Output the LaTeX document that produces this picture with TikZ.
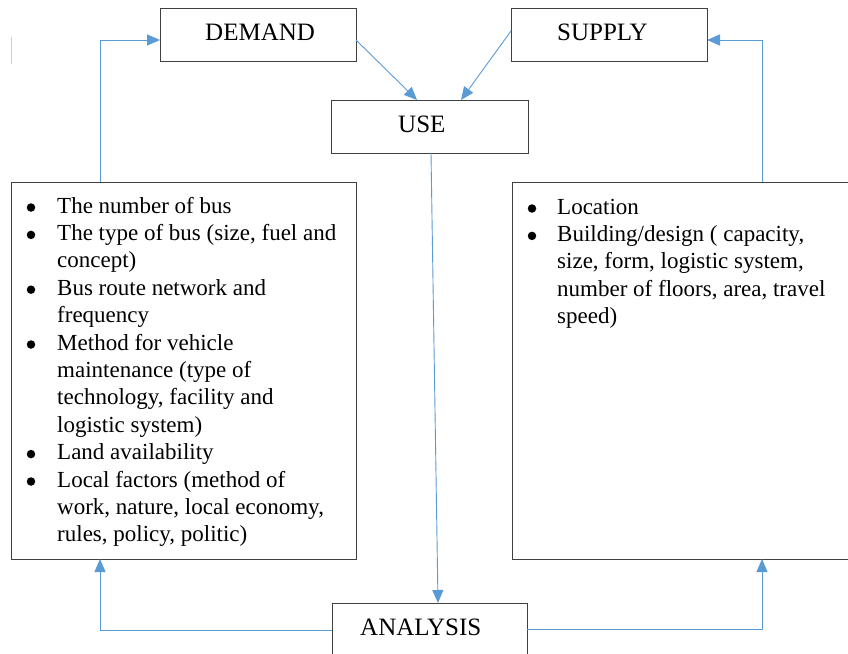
\documentclass[tikz,border=0pt]{standalone}
\usepackage{fontspec}
\setmainfont{Liberation Serif}
\usetikzlibrary{arrows.meta}
\definecolor{arrowblue}{HTML}{5B9BD5}
\definecolor{boxgray}{HTML}{404040}
\begin{document}
\begin{tikzpicture}[x=1pt,y=-1pt,
  box/.style={draw=boxgray,line width=0.9pt,inner sep=0pt,outer sep=0pt},
  head/.style={anchor=base west,inner sep=0pt,font=\fontsize{25}{30}\selectfont},
  ln/.style={anchor=base west,inner sep=0pt,font=\fontsize{23}{27}\selectfont},
  bul/.style={circle,fill=black,draw=none,minimum size=8.5pt,inner sep=0pt},
  arr/.style={draw=arrowblue,line width=0.9pt,-{Triangle[length=13pt,width=11pt]}}]
\useasboundingbox (0,0) rectangle (848,653);
\clip (0,0) rectangle (848,653);
\fill[white] (0,0) rectangle (848,653);

% boxes
\node[box,minimum width=196pt,minimum height=53pt] (dem) at (258,34.5) {};
\node[box,minimum width=196pt,minimum height=53pt] (sup) at (609,34.5) {};
\node[box,minimum width=197pt,minimum height=53pt] (use) at (429.5,126.5) {};
\node[box,minimum width=345pt,minimum height=377pt] (lbox) at (183.5,370.5) {};
\node[box,minimum width=338pt,minimum height=377pt] (rbox) at (681,370.5) {};
\node[box,minimum width=195pt,minimum height=57pt] (ana) at (429.5,631.5) {};

% box titles
\node[head] (demt) at (205,40) {DEMAND};
\node[head] (supt) at (557,40) {SUPPLY};
\node[head] (uset) at (398,132) {USE};
\node[head] (anat) at (360,635) {ANALYSIS};

% left list
\foreach \t [count=\i from 0] in {{The number of bus},{The type of bus (size, fuel and},{concept)},{Bus route network and},{frequency},{Method for vehicle},{maintenance (type of},{technology, facility and},{logistic system)},{Land availability},{Local factors (method of},{work, nature, local economy,},{rules, policy, politic)}}
  \node[ln] (l\i) at (57,{213+27.4*\i}) {\t};
\foreach \i in {0,1,3,5,9,10}
  \node[bul] (lb\i) at (31,{207.5+27.4*\i}) {};

% right list
\foreach \t [count=\i from 0] in {{Location},{Building/design ( capacity,},{size, form, logistic system,},{number of floors, area, travel},{speed)}}
  \node[ln] (r\i) at (557,{214+27.4*\i}) {\t};
\foreach \i in {0,1}
  \node[bul] (rb\i) at (532,{208.5+27.4*\i}) {};

% guide coordinates
\coordinate (xl) at (100,0);
\coordinate (xr) at (762,0);

% connectors
\draw[arr] (lbox.north -| xl) |- ([yshift=-5.5pt]dem.west);
\draw[arr] ([yshift=-5.5pt]dem.east) -- ([xshift=-12.5pt]use.north);
\draw[arr] ([yshift=3.5pt]sup.west) -- ([xshift=31.5pt]use.north);
\draw[arr] (rbox.north -| xr) |- ([yshift=-5.5pt]sup.east);
\draw[arr] ([xshift=1.5pt]use.south) -- ([xshift=8.5pt]ana.north);
\draw[arr] ([yshift=1.5pt]ana.west) -| (lbox.south -| xl);
\draw[arr] ([yshift=2.5pt]ana.east) -| (rbox.south -| xr);

% faint mark at left
\draw[gray!40,line width=1pt] (11,37) -- (11,64);
\end{tikzpicture}
\end{document}
